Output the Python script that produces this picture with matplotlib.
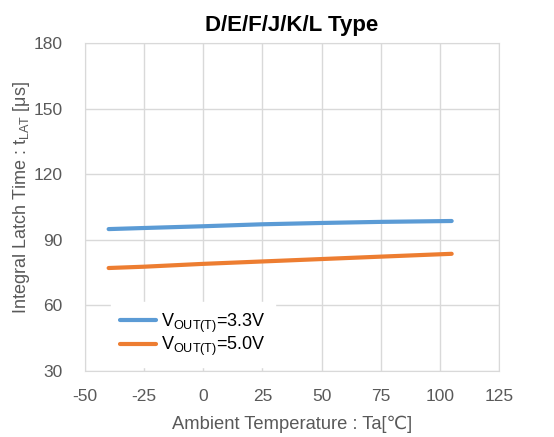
import matplotlib
matplotlib.use("Agg")
import matplotlib.pyplot as plt

# data
temps = [-40, -25, 0, 25, 50, 75, 105]
tlat_33v = [94.9, 95.4, 96.2, 97.1, 97.7, 98.2, 98.6]
tlat_50v = [77.1, 77.7, 79.0, 80.1, 81.2, 82.3, 83.6]
x_ticks = [-50, -25, 0, 25, 50, 75, 100, 125]
y_ticks = [30, 60, 90, 120, 150, 180]

plt.rcParams["font.family"] = ["Liberation Sans", "DejaVu Sans"]
plt.rcParams["mathtext.fontset"] = "custom"
plt.rcParams["mathtext.rm"] = "Liberation Sans"
plt.rcParams["mathtext.it"] = "Liberation Sans:italic"
plt.rcParams["axes.unicode_minus"] = False

grey = "#595959"
grid_c = "#d9d9d9"

fig = plt.figure(figsize=(5.54, 4.37), dpi=100)
ax = fig.add_axes([0.1534, 0.151, 0.7473, 0.7506])

ax.plot(temps, tlat_33v, color="#5b9bd5", lw=3, label=r"V$_{\mathrm{OUT(T)}}$=3.3V",
        solid_capstyle="round")
ax.plot(temps, tlat_50v, color="#ed7d31", lw=3, label=r"V$_{\mathrm{OUT(T)}}$=5.0V",
        solid_capstyle="round")

ax.set_xlim(-50, 125)
ax.set_ylim(30, 180)
ax.set_xticks(x_ticks)
ax.set_yticks(y_ticks)
ax.grid(True, color=grid_c, lw=1)
ax.set_axisbelow(True)
for s in ax.spines.values():
    s.set_color(grid_c)
ax.tick_params(length=0, labelsize=12.5, colors=grey)
ax.tick_params(axis="x", pad=13)
ax.tick_params(axis="y", pad=16)

ax.set_xlabel("Ambient Temperature : Ta[\u2103]", fontsize=13.2, color=grey, labelpad=8)
ax.set_ylabel(r"Integral Latch Time : t$_{\mathrm{LAT}}$ [μs]", fontsize=13, color=grey)
ax.yaxis.set_label_coords(-0.127, 0.53)
ax.set_title("D/E/F/J/K/L Type", fontsize=16, fontweight="bold", pad=9)

leg = ax.legend(loc="lower left", bbox_to_anchor=(0.04, -0.015), frameon=True, fontsize=13,
                handlelength=2.0, handletextpad=0.3, labelspacing=0.0, borderpad=0.5,
                fancybox=False)
leg.get_frame().set_edgecolor("white")
leg.get_frame().set_facecolor("white")
leg.get_frame().set_alpha(1)

fig.savefig("out.png", dpi=100)
